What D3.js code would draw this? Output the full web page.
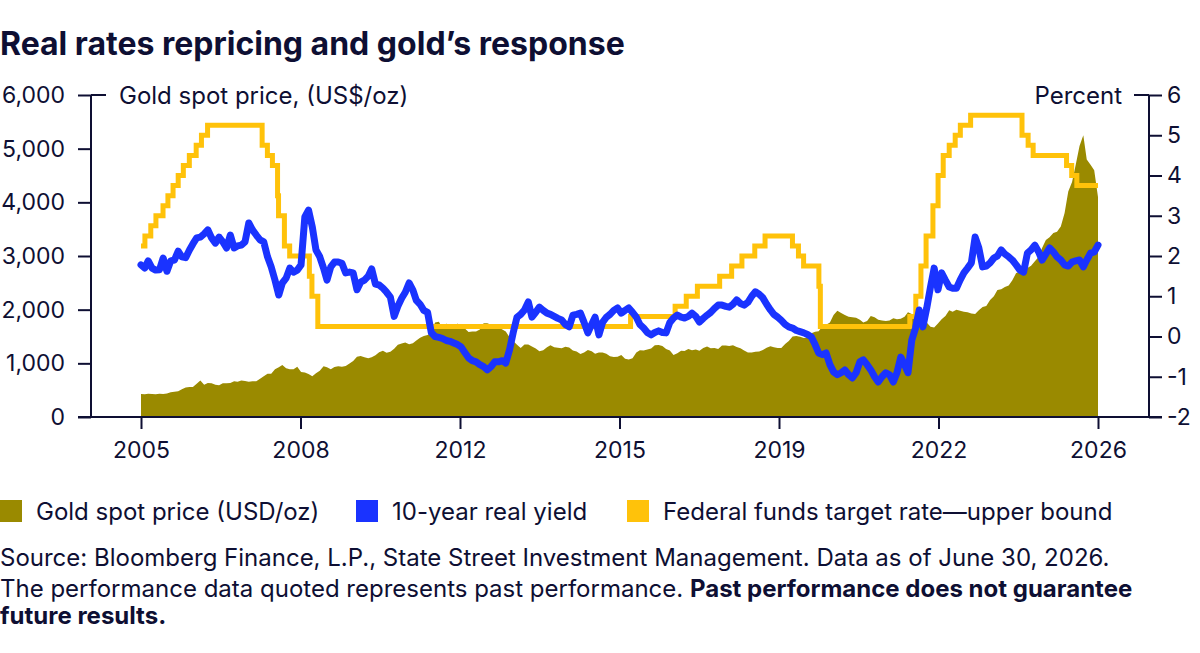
<!DOCTYPE html>
<html>
<head>
<meta charset="utf-8">
<script src="https://cdn.jsdelivr.net/npm/d3@7"></script>
<style>
  html, body { margin: 0; padding: 0; background: #ffffff; }
  svg { display: block; font-family: Inter, "Noto Sans", sans-serif; }
</style>
</head>
<body>
<svg id="chart" width="1200" height="653"></svg>
<script>
// ---------------- DATA ----------------
const startMonth = "2005-01-01";
const endMonth = "2026-06-01";

// Gold spot price, US$/oz, monthly (Jan 2005 .. Jun 2026)
const goldPrice = [
  430, 425, 435, 430, 425, 435, 428, 440, 460, 472, 480, 515,
  550, 560, 560, 620, 680, 600, 635, 630, 600, 590, 630, 630,
  635, 665, 655, 680, 670, 655, 668, 668, 715, 760, 805, 805,
  890, 925, 970, 910, 890, 890, 935, 840, 830, 800, 760, 815,
  860, 945, 925, 890, 930, 945, 935, 950, 995, 1045, 1125, 1135,
  1115, 1095, 1115, 1150, 1205, 1235, 1195, 1215, 1270, 1345, 1370, 1390,
  1355, 1375, 1425, 1475, 1510, 1530, 1575, 1760, 1775, 1665, 1740, 1650,
  1655, 1740, 1675, 1650, 1585, 1595, 1595, 1630, 1745, 1745, 1720, 1685,
  1670, 1630, 1595, 1485, 1415, 1345, 1285, 1350, 1350, 1315, 1275, 1225,
  1245, 1300, 1335, 1300, 1290, 1280, 1310, 1295, 1240, 1220, 1175, 1200,
  1250, 1225, 1180, 1200, 1200, 1180, 1130, 1120, 1125, 1155, 1085, 1070,
  1095, 1200, 1245, 1240, 1260, 1275, 1335, 1340, 1325, 1265, 1240, 1155,
  1190, 1235, 1230, 1265, 1245, 1260, 1235, 1285, 1315, 1280, 1285, 1265,
  1330, 1330, 1325, 1335, 1305, 1280, 1240, 1200, 1200, 1215, 1220, 1250,
  1290, 1320, 1300, 1285, 1285, 1360, 1415, 1500, 1510, 1495, 1470, 1480,
  1560, 1590, 1600, 1690, 1720, 1760, 1900, 1980, 1940, 1900, 1870, 1860,
  1850, 1810, 1760, 1790, 1880, 1860, 1810, 1800, 1790, 1800, 1840, 1820,
  1830, 1870, 1950, 1920, 1850, 1830, 1740, 1760, 1680, 1670, 1740, 1820,
  1880, 1990, 1960, 2000, 1980, 1960, 1950, 1930, 1920, 1990, 2050, 2070,
  2180, 2250, 2366, 2380, 2422, 2450, 2550, 2683, 2700, 2750, 2776, 2820,
  2900, 2980, 3150, 3300, 3350, 3430, 3450, 3550, 3800, 4200, 4380, 4700,
  5050, 5250, 4800, 4700, 4600, 4100
];

// 10-year real yield, percent, monthly (Jan 2005 .. Jun 2026)
const realYield = [
  1.78, 1.70, 1.88, 1.70, 1.65, 1.66, 1.95, 1.62, 1.88, 1.90, 2.12, 1.98,
  1.96, 2.15, 2.30, 2.45, 2.47, 2.55, 2.65, 2.45, 2.32, 2.47, 2.35, 2.20,
  2.52, 2.20, 2.25, 2.27, 2.35, 2.82, 2.65, 2.52, 2.40, 2.35, 1.98, 1.73,
  1.40, 1.03, 1.33, 1.45, 1.70, 1.60, 1.65, 1.78, 2.97, 3.14, 2.72, 2.15,
  1.98, 1.70, 1.40, 1.73, 1.85, 1.85, 1.82, 1.58, 1.60, 1.58, 1.16, 1.35,
  1.40, 1.50, 1.68, 1.30, 1.28, 1.20, 1.10, 0.98, 0.50, 0.75, 0.95, 1.10,
  1.33, 1.15, 0.90, 0.80, 0.65, 0.60, 0.10, 0.00, -0.02, -0.05, -0.10, -0.12,
  -0.16, -0.20, -0.26, -0.40, -0.53, -0.60, -0.63, -0.70, -0.75, -0.83, -0.75, -0.63,
  -0.63, -0.60, -0.66, -0.33, 0.10, 0.48, 0.55, 0.66, 0.86, 0.48, 0.60, 0.73,
  0.65, 0.58, 0.55, 0.50, 0.45, 0.41, 0.30, 0.24, 0.53, 0.55, 0.58, 0.35,
  0.09, 0.30, 0.48, 0.04, 0.35, 0.48, 0.55, 0.65, 0.71, 0.58, 0.65, 0.71,
  0.60, 0.48, 0.30, 0.21, 0.10, 0.04, 0.10, 0.14, 0.10, 0.09, 0.35, 0.46,
  0.53, 0.48, 0.46, 0.50, 0.58, 0.50, 0.36, 0.45, 0.53, 0.60, 0.70, 0.78,
  0.78, 0.75, 0.73, 0.80, 0.91, 0.82, 0.78, 0.85, 1.00, 1.11, 1.05, 0.96,
  0.80, 0.66, 0.55, 0.48, 0.40, 0.30, 0.24, 0.21, 0.15, 0.12, 0.09, 0.05,
  -0.01, -0.20, -0.41, -0.45, -0.41, -0.70, -0.88, -0.95, -0.90, -0.83, -0.95, -1.03,
  -0.90, -0.63, -0.58, -0.70, -0.83, -1.00, -1.13, -1.00, -0.90, -0.95, -1.13, -0.90,
  -0.51, -0.70, -0.90, -0.09, 0.20, 0.66, 0.24, 0.70, 1.23, 1.70, 1.16, 1.58,
  1.40, 1.23, 1.20, 1.20, 1.40, 1.58, 1.70, 1.83, 2.47, 2.20, 1.73, 1.75,
  1.83, 1.95, 2.00, 2.15, 2.05, 1.98, 1.90, 1.78, 1.65, 1.60, 2.07, 2.15,
  2.27, 2.10, 1.90, 2.05, 2.20, 2.10, 1.98, 1.90, 1.78, 1.75, 1.85, 1.88,
  1.90, 1.73, 1.90, 2.07, 2.10, 2.27
];

// Federal funds target rate, upper bound (change dates and new levels)
const fedDates = [
  "2005-01-01","2005-02-02","2005-03-22","2005-05-03","2005-06-30","2005-08-09","2005-09-20",
  "2005-11-01","2005-12-13","2006-01-31","2006-03-28","2006-05-10","2006-06-29",
  "2007-09-18","2007-10-31","2007-12-11","2008-01-22","2008-01-30","2008-03-18","2008-04-30",
  "2008-10-08","2008-10-29","2008-12-16","2015-12-16","2016-12-14","2017-03-15","2017-06-14",
  "2017-12-13","2018-03-21","2018-06-13","2018-09-26","2018-12-19","2019-07-31","2019-09-18",
  "2019-10-30","2020-03-03","2020-03-15","2022-03-16","2022-05-04","2022-06-15","2022-07-27",
  "2022-09-21","2022-11-02","2022-12-14","2023-02-01","2023-03-22","2023-05-03","2023-07-26",
  "2024-09-18","2024-11-07","2024-12-18","2025-09-17","2025-10-29","2025-12-10","2026-06-01"
];
const fedValues = [
  2.25, 2.5, 2.75, 3.0, 3.25, 3.5, 3.75,
  4.0, 4.25, 4.5, 4.75, 5.0, 5.25,
  4.75, 4.5, 4.25, 3.5, 3.0, 2.25, 2.0,
  1.5, 1.0, 0.25, 0.5, 0.75, 1.0, 1.25,
  1.5, 1.75, 2.0, 2.25, 2.5, 2.25, 2.0,
  1.75, 1.25, 0.25, 0.5, 1.0, 1.75, 2.5,
  3.25, 4.0, 4.5, 4.75, 5.0, 5.25, 5.5,
  5.0, 4.75, 4.5, 4.25, 4.0, 3.75, 3.75
];

const leftTicks = [0, 1000, 2000, 3000, 4000, 5000, 6000];
const rightTicks = [-2, -1, 0, 1, 2, 3, 4, 5, 6];
const xTickCount = 7;

const titleText = "Real rates repricing and gold\u2019s response";
const leftAxisTitle = "Gold spot price, (US$/oz)";
const rightAxisTitle = "Percent";
const legendLabels = ["Gold spot price (USD/oz)", "10-year real yield", "Federal funds target rate\u2014upper bound"];
const sourceLine1 = "Source: Bloomberg Finance, L.P., State Street Investment Management. Data as of June 30, 2026.";
const sourceLine2a = "The performance data quoted represents past performance. ";
const sourceLine2b = "Past performance does not guarantee";
const sourceLine3 = "future results.";

// ---------------- STYLE ----------------
const COL_GOLD = "#9a8a00";
const COL_BLUE = "#1a33ff";
const COL_YELLOW = "#ffc20a";
const COL_TEXT = "#0e0f33";
const COL_AXIS = "#0e0f33";

// ---------------- DRAW ----------------
const parse = d3.timeParse("%Y-%m-%d");
const months = d3.timeMonth.range(parse(startMonth), d3.timeMonth.offset(parse(endMonth), 1));
const goldData = months.map((d, i) => ({ date: d, v: goldPrice[i] }));
const yieldData = months.map((d, i) => ({ date: d, v: realYield[i] }));
const fedData = fedDates.map((d, i) => ({ date: parse(d), v: fedValues[i] }));

const svg = d3.select("#chart");
const plotLeft = 91, plotRight = 1149, plotTop = 95, plotBottom = 417;
const dataLeft = 141, dataRight = 1098;

const x = d3.scaleTime().domain([months[0], months[months.length - 1]]).range([dataLeft, dataRight]);
const yL = d3.scaleLinear().domain([0, 6000]).range([plotBottom, plotTop]);
const yR = d3.scaleLinear().domain([-2, 6]).range([plotBottom, plotTop]);

// gold area
svg.append("path")
  .datum(goldData)
  .attr("fill", COL_GOLD)
  .attr("d", d3.area().x(d => x(d.date)).y0(yL(0)).y1(d => yL(d.v)));

// fed funds line
svg.append("path")
  .datum(fedData)
  .attr("fill", "none")
  .attr("stroke", COL_YELLOW)
  .attr("stroke-width", 5)
  .attr("stroke-linejoin", "miter")
  .attr("d", d3.line().curve(d3.curveStepAfter).x(d => x(d.date)).y(d => yR(d.v)));

// real yield line
svg.append("path")
  .datum(yieldData)
  .attr("fill", "none")
  .attr("stroke", COL_BLUE)
  .attr("stroke-width", 7)
  .attr("stroke-linejoin", "round")
  .attr("stroke-linecap", "round")
  .attr("d", d3.line().x(d => x(d.date)).y(d => yR(d.v)));

// axes
const fontSize = 24;
const tickFont = 23;
const leftAxis = d3.axisLeft(yL).tickValues(leftTicks).tickSize(13).tickPadding(14)
  .tickFormat(d3.format(","));
const gL = svg.append("g").attr("transform", `translate(${plotLeft},0)`).call(leftAxis);

const rightAxis = d3.axisRight(yR).tickValues(rightTicks).tickSize(13).tickPadding(6)
  .tickFormat(d => d);
const gR = svg.append("g").attr("transform", `translate(${plotRight},0)`).call(rightAxis);

const [d0, d1] = x.domain();
const xTickVals = d3.range(xTickCount).map(i => new Date(+d0 + i * (d1 - d0) / (xTickCount - 1)));
const bottomAxis = d3.axisBottom(x).tickValues(xTickVals).tickSize(12).tickPadding(13)
  .tickFormat(d3.timeFormat("%Y"));
const gB = svg.append("g").attr("transform", `translate(0,${plotBottom})`).call(bottomAxis);

[gL, gR, gB].forEach(g => {
  g.select(".domain").remove();
  g.selectAll("line").attr("stroke", COL_AXIS).attr("stroke-width", 2);
  g.selectAll("text").attr("fill", COL_TEXT).attr("font-size", tickFont)
    .attr("font-family", "Inter, 'Noto Sans', sans-serif");
});
gL.selectAll("text").attr("x", -26).attr("text-anchor", "end");
gR.selectAll("text").attr("x", 18).attr("text-anchor", "start");

// axis lines (vertical + baseline)
svg.append("line").attr("x1", plotLeft).attr("x2", plotLeft).attr("y1", plotTop).attr("y2", plotBottom)
  .attr("stroke", COL_AXIS).attr("stroke-width", 2);
svg.append("line").attr("x1", plotRight).attr("x2", plotRight).attr("y1", plotTop).attr("y2", plotBottom)
  .attr("stroke", COL_AXIS).attr("stroke-width", 2);
svg.append("line").attr("x1", plotLeft - 13).attr("x2", plotRight + 13).attr("y1", plotBottom).attr("y2", plotBottom)
  .attr("stroke", COL_AXIS).attr("stroke-width", 2);
// top tick extensions into the plot
svg.append("line").attr("x1", plotLeft).attr("x2", plotLeft + 15).attr("y1", plotTop).attr("y2", plotTop)
  .attr("stroke", COL_AXIS).attr("stroke-width", 2);
svg.append("line").attr("x1", plotRight - 15).attr("x2", plotRight).attr("y1", plotTop).attr("y2", plotTop)
  .attr("stroke", COL_AXIS).attr("stroke-width", 2);

// axis titles
svg.append("text").attr("x", 119).attr("y", plotTop + 9).attr("font-size", fontSize).attr("fill", COL_TEXT)
  .text(leftAxisTitle);
svg.append("text").attr("x", 1122).attr("y", plotTop + 9).attr("font-size", fontSize).attr("fill", COL_TEXT)
  .attr("text-anchor", "end").text(rightAxisTitle);

// title
svg.append("text").attr("x", 0).attr("y", 55).attr("font-size", 32).attr("font-weight", 700)
  .attr("fill", COL_TEXT).text(titleText);

// legend
const legendX = [0, 356, 627];
const legendCols = [COL_GOLD, COL_BLUE, COL_YELLOW];
legendLabels.forEach((lab, i) => {
  svg.append("rect").attr("x", legendX[i]).attr("y", 500).attr("width", 22).attr("height", 22)
    .attr("fill", legendCols[i]);
  svg.append("text").attr("x", legendX[i] + 36).attr("y", 520).attr("font-size", fontSize)
    .attr("fill", COL_TEXT).text(lab);
});

// source
svg.append("text").attr("x", 0).attr("y", 566).attr("font-size", fontSize).attr("fill", COL_TEXT)
  .text(sourceLine1);
const s2 = svg.append("text").attr("x", 0).attr("y", 597).attr("font-size", fontSize).attr("fill", COL_TEXT);
s2.append("tspan").text(sourceLine2a);
s2.append("tspan").attr("font-weight", 700).text(sourceLine2b);
svg.append("text").attr("x", 0).attr("y", 624).attr("font-size", fontSize).attr("font-weight", 700)
  .attr("fill", COL_TEXT).text(sourceLine3);
</script>
</body>
</html>
